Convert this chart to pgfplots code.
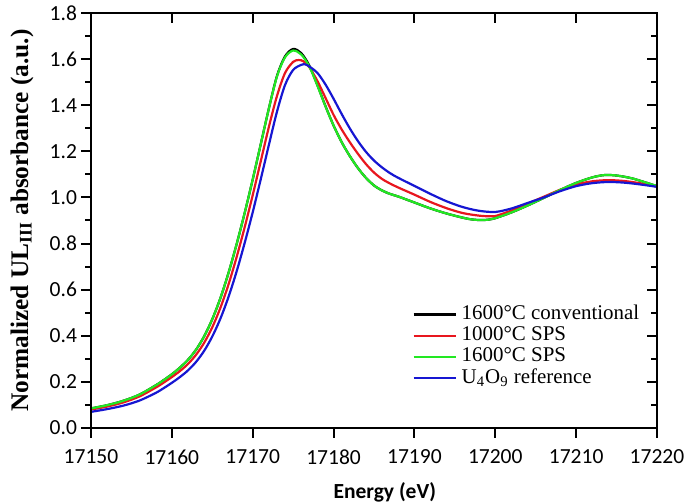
\documentclass[border=0pt]{standalone}
\usepackage{fontspec}
\setmainfont{Liberation Serif}
\newfontfamily\calibri{Carlito}
\usepackage{pgfplots}
\usepackage{pgfplotstable}
\pgfplotsset{compat=1.18}

\definecolor{cred}{RGB}{232,22,30}
\definecolor{cgreen}{RGB}{34,232,34}
\definecolor{cblue}{RGB}{22,22,210}

% energy (eV)  absorbance
\pgfplotstableread{
E y
17150 0.085
17152 0.099
17154 0.118
17156 0.145
17158 0.185
17159 0.208
17160 0.233
17161 0.262
17162 0.296
17163 0.340
17164 0.398
17165 0.472
17166 0.563
17167 0.672
17168 0.796
17169 0.932
17170 1.078
17171 1.232
17172 1.386
17173 1.527
17174 1.612
17175 1.644
17176 1.626
17177 1.572
17178 1.487
17179 1.396
17180 1.312
17181 1.240
17182 1.180
17183 1.128
17184 1.085
17185 1.052
17186 1.030
17187 1.015
17188 1.004
17190 0.978
17192 0.952
17194 0.930
17196 0.912
17197 0.905
17198 0.902
17199 0.903
17200 0.910
17202 0.935
17204 0.965
17206 0.998
17208 1.032
17210 1.063
17212 1.087
17213.5 1.097
17215 1.095
17217 1.082
17220 1.049
}\conv

\pgfplotstableread{
E y
17150 0.080
17152 0.093
17154 0.111
17156 0.137
17158 0.175
17159 0.197
17160 0.221
17161 0.247
17162 0.278
17163 0.318
17164 0.370
17165 0.437
17166 0.521
17167 0.622
17168 0.740
17169 0.870
17170 1.010
17171 1.158
17172 1.306
17173 1.440
17174 1.540
17175 1.588
17175.7 1.596
17176.3 1.590
17177 1.565
17178 1.505
17179 1.432
17180 1.358
17181 1.295
17182 1.240
17183 1.190
17184 1.145
17185 1.108
17186 1.080
17187 1.060
17188 1.043
17190 1.012
17192 0.980
17194 0.953
17196 0.932
17198 0.921
17199.3 0.918
17200 0.919
17202 0.943
17204 0.973
17206 1.003
17208 1.033
17210 1.056
17212 1.070
17214 1.075
17216 1.071
17218 1.061
17220 1.047
}\spslow

\pgfplotstableread{
E y
17150 0.085
17152 0.099
17154 0.118
17156 0.145
17158 0.185
17159 0.208
17160 0.233
17161 0.262
17162 0.296
17163 0.340
17164 0.398
17165 0.472
17166 0.563
17167 0.672
17168 0.796
17169 0.932
17170 1.078
17171 1.232
17172 1.386
17173 1.525
17174 1.608
17175 1.637
17176 1.620
17177 1.568
17178 1.485
17179 1.395
17180 1.312
17181 1.240
17182 1.180
17183 1.128
17184 1.085
17185 1.052
17186 1.030
17187 1.015
17188 1.004
17190 0.978
17192 0.952
17194 0.930
17196 0.912
17197 0.905
17198 0.902
17199 0.903
17200 0.910
17202 0.935
17204 0.965
17206 0.998
17208 1.032
17210 1.063
17212 1.087
17213.5 1.097
17215 1.095
17217 1.082
17220 1.049
}\spshigh

\pgfplotstableread{
E y
17150 0.070
17152 0.082
17154 0.097
17156 0.119
17158 0.152
17159 0.173
17160 0.196
17161 0.221
17162 0.250
17163 0.287
17164 0.335
17165 0.397
17166 0.474
17167 0.568
17168 0.678
17169 0.802
17170 0.936
17171 1.080
17172 1.228
17173 1.372
17174 1.488
17175 1.553
17176 1.575
17176.5 1.577
17177 1.568
17178 1.540
17179 1.490
17180 1.428
17181 1.362
17182 1.300
17183 1.245
17184 1.198
17185 1.160
17186 1.130
17187 1.105
17188 1.085
17190 1.050
17192 1.015
17194 0.983
17196 0.958
17198 0.942
17200 0.937
17202 0.952
17204 0.976
17206 1.000
17208 1.027
17210 1.049
17212 1.062
17214 1.067
17216 1.064
17218 1.056
17220 1.046
}\uoref

\pgfplotsset{
  common/.style={
    width=283bp, height=207.5bp, scale only axis,
    xmin=17150, xmax=17220, ymin=0, ymax=1.8,
    xtick={17150,17160,...,17220},
    ytick={0,0.2,...,1.8},
    scaled x ticks=false,
    minor x tick num=1, minor y tick num=1,
    axis line style={line width=1bp},
    every tick/.style={black, line width=1bp},
    major tick length=5bp, minor tick length=3bp,
  }
}

\begin{document}
\begin{tikzpicture}
\begin{axis}[
  common,
  tick align=outside,
  xtick pos=left, ytick pos=left,
  /pgf/number format/assume math mode=true,
  tick label style={font=\calibri\fontsize{10.8}{12}\selectfont},
  x tick label style={yshift=-2.5bp, /pgf/number format/set thousands separator={}},
  y tick label style={xshift=1.5bp, /pgf/number format/fixed, /pgf/number format/fixed zerofill, /pgf/number format/precision=1},
  xlabel={\calibri\bfseries Energy (eV)},
  xlabel style={font=\fontsize{10.8}{12}\selectfont, at={(axis description cs:0.519,-0.1687)}, anchor=base},
  ylabel={Normalized UL\textsubscript{III} absorbance (a.u.)},
  ylabel style={font=\bfseries\fontsize{12.7}{14}\selectfont, at={(axis description cs:-0.122,0.5)}, anchor=center},
  legend style={draw=none, fill=none, at={(axis description cs:0.567,0.296)}, anchor=north west,
    font=\fontsize{10.5}{11}\selectfont, row sep=1.6bp, column sep=2.5bp, inner sep=0pt,
    nodes={inner sep=0pt, text height=7bp, text depth=2bp}},
  legend cell align=left,
  legend image code/.code={\draw[#1, line width=1.2bp] (0bp,0bp) -- (21bp,0bp);},
]
\addplot[black, line width=1.1bp, smooth] table[x=E, y=y] {\conv};
\addlegendentry{1600°C conventional}
\addplot[cred, line width=1.1bp, smooth] table[x=E, y=y] {\spslow};
\addlegendentry{1000°C SPS}
\addplot[cgreen, line width=1.1bp, smooth] table[x=E, y=y] {\spshigh};
\addlegendentry{1600°C SPS}
\addplot[cblue, line width=1.1bp, smooth] table[x=E, y=y] {\uoref};
\addlegendentry{U\textsubscript{4}O\textsubscript{9} reference}
\coordinate (pgSW) at (rel axis cs:-0.1608,-0.1831);
\coordinate (pgNE) at (rel axis cs:1.0495,1.0313);
\end{axis}
\begin{axis}[
  common,
  tick align=inside,
  xtick pos=right, ytick pos=right,
  xticklabels={}, yticklabels={},
]
\end{axis}
\pgfresetboundingbox
\useasboundingbox (pgSW) rectangle (pgNE);
\end{tikzpicture}
\end{document}
